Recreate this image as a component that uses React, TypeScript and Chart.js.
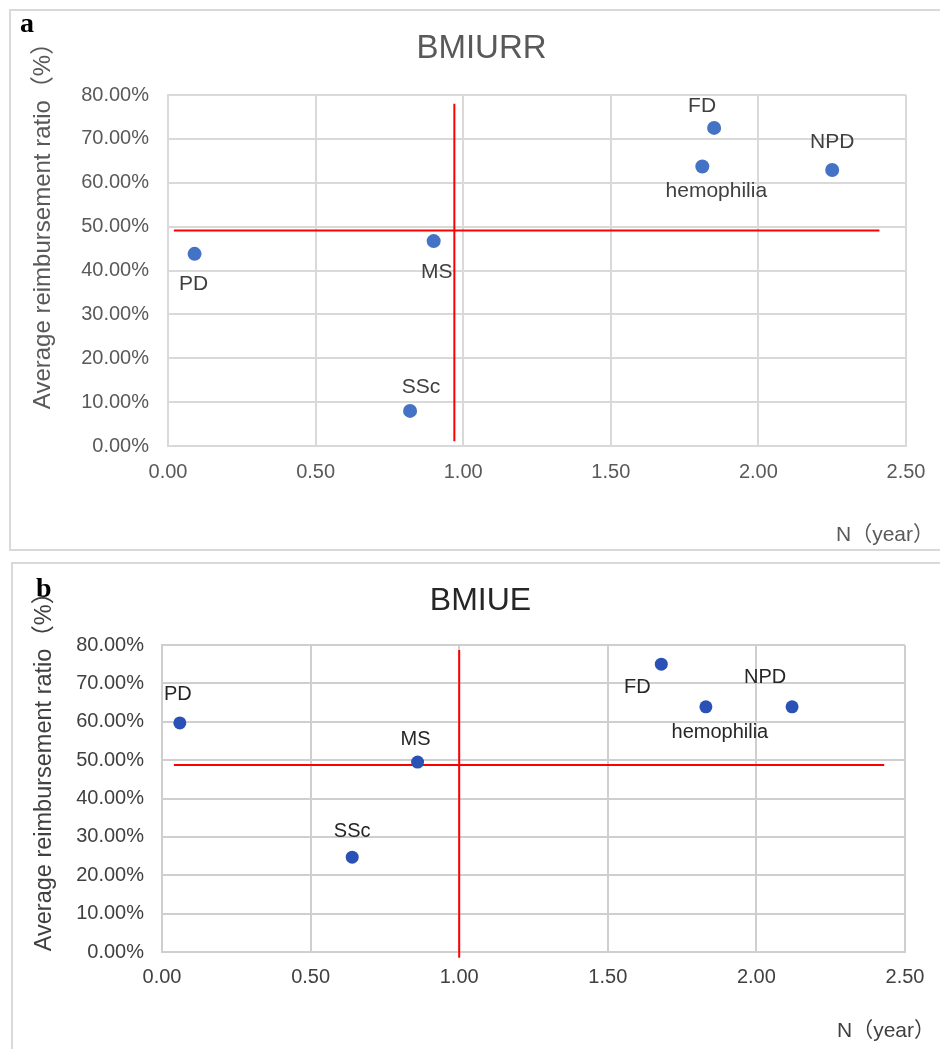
import React, { useEffect, useRef } from 'react';
import { Chart, registerables } from 'chart.js';

Chart.register(...registerables);

// ---------- data ----------
const categories = ['PD', 'MS', 'SSc', 'FD', 'hemophilia', 'NPD'];

const urrYears = [0.09, 0.9, 0.82, 1.85, 1.81, 2.25];
const urrRatio = [43.8, 46.7, 8.0, 72.5, 63.7, 62.9];

const ueYears = [0.06, 0.86, 0.64, 1.68, 1.83, 2.12];
const ueRatio = [59.7, 49.5, 24.7, 75.0, 63.9, 63.9];

const urrHLineX = [0.02, 2.41];
const urrHLineY = 49.1;
const urrVLineX = 0.97;
const urrVLineY = [1.1, 78.0];

const ueHLineX = [0.04, 2.43];
const ueHLineY = 48.7;
const ueVLineX = 1.0;
const ueVLineY = [-1.5, 78.7];

const xTickValues = [0, 0.5, 1, 1.5, 2, 2.5];
const yTickValues = [0, 10, 20, 30, 40, 50, 60, 70, 80];

const yAxisTitle = 'Average reimbursement ratio（%）';
const xAxisTitle = 'N（year）';

const FONT = "'Liberation Sans', Arial, 'Noto Sans CJK SC', sans-serif";

type PanelCfg = {
  title: string;
  letter: string;
  years: number[];
  ratio: number[];
  hX: number[];
  hY: number;
  vX: number;
  vY: number[];
  canvasTop: number;
  height: number;
  area: { left: number; top: number; right: number; bottom: number };
  yPad: number;
  xPad: number;
  pointColor: string;
  pointRadius: number;
  labelColor: string;
  labelSize: number;
  tickColor: string;
  tickSize: number;
  gridColor: string;
  titleSize: number;
  titleColor: string;
  titlePos: [number, number];
  letterPos: [number, number];
  yTitlePos: [number, number];
  yTitleSize: number;
  xTitlePos: [number, number];
  xTitleSize: number;
  labelOffsets: [number, number][];
};

const panelA: PanelCfg = {
  title: 'BMIURR',
  letter: 'a',
  years: urrYears,
  ratio: urrRatio,
  hX: urrHLineX,
  hY: urrHLineY,
  vX: urrVLineX,
  vY: urrVLineY,
  canvasTop: 0,
  height: 556,
  area: { left: 168, top: 95, right: 906, bottom: 446 },
  yPad: 19,
  xPad: 14,
  pointColor: '#4472C4',
  pointRadius: 7,
  labelColor: '#404040',
  labelSize: 21,
  tickColor: '#595959',
  tickSize: 20,
  gridColor: '#d9d9d9',
  titleSize: 33,
  titleColor: '#595959',
  titlePos: [481.5, 58],
  letterPos: [20, 32],
  yTitlePos: [43, 220],
  yTitleSize: 24,
  xTitlePos: [836, 541],
  xTitleSize: 21,
  labelOffsets: [
    [-1, 30],
    [3, 31],
    [11, -24],
    [-12, -22],
    [14, 25],
    [0, -28],
  ],
};

const panelB: PanelCfg = {
  title: 'BMIUE',
  letter: 'b',
  years: ueYears,
  ratio: ueRatio,
  hX: ueHLineX,
  hY: ueHLineY,
  vX: ueVLineX,
  vY: ueVLineY,
  canvasTop: 556,
  height: 493,
  area: { left: 162, top: 89, right: 905, bottom: 396 },
  yPad: 18,
  xPad: 13,
  pointColor: '#2A52B6',
  pointRadius: 6.5,
  labelColor: '#262626',
  labelSize: 20,
  tickColor: '#404040',
  tickSize: 20,
  gridColor: '#cfcfcf',
  titleSize: 32,
  titleColor: '#262626',
  titlePos: [480.5, 610],
  letterPos: [36, 597],
  yTitlePos: [45, 766],
  yTitleSize: 23.5,
  xTitlePos: [837, 1037],
  xTitleSize: 21,
  labelOffsets: [
    [-2, -28],
    [-2, -23],
    [0, -26],
    [-24, 23],
    [14, 26],
    [-27, -29],
  ],
};

function makeChart(canvas: HTMLCanvasElement, p: PanelCfg) {
  const W = 940;
  const xAxisH = 60;
  const textPlugin = {
    id: 'panelText',
    afterDatasetsDraw(chart: any) {
      const ctx = chart.ctx as CanvasRenderingContext2D;
      const meta = chart.getDatasetMeta(0);
      ctx.save();
      ctx.fillStyle = p.labelColor;
      ctx.font = `${p.labelSize}px ${FONT}`;
      ctx.textAlign = 'center';
      ctx.textBaseline = 'middle';
      meta.data.forEach((el: any, i: number) => {
        const [dx, dy] = p.labelOffsets[i];
        ctx.fillText(categories[i], el.x + dx, el.y + dy);
      });
      ctx.restore();
    },
    afterDraw(chart: any) {
      const ctx = chart.ctx as CanvasRenderingContext2D;
      const off = p.canvasTop;
      ctx.save();
      // title
      ctx.fillStyle = p.titleColor;
      ctx.font = `${p.titleSize}px ${FONT}`;
      ctx.textAlign = 'center';
      ctx.textBaseline = 'alphabetic';
      ctx.fillText(p.title, p.titlePos[0], p.titlePos[1] - off);
      // panel letter
      ctx.fillStyle = '#000';
      ctx.font = `bold 28px 'Liberation Serif', 'Times New Roman', serif`;
      ctx.textAlign = 'left';
      ctx.fillText(p.letter, p.letterPos[0], p.letterPos[1] - off);
      // x axis title
      ctx.fillStyle = p.tickColor;
      ctx.font = `${p.xTitleSize}px ${FONT}`;
      ctx.textAlign = 'left';
      ctx.fillText(xAxisTitle, p.xTitlePos[0], p.xTitlePos[1] - off);
      // y axis title
      ctx.translate(p.yTitlePos[0], p.yTitlePos[1] - off);
      ctx.rotate(-Math.PI / 2);
      ctx.font = `${p.yTitleSize}px ${FONT}`;
      ctx.textAlign = 'center';
      ctx.textBaseline = 'middle';
      ctx.fillText(yAxisTitle, 0, 0);
      ctx.restore();
    },
  };

  return new Chart(canvas, {
    type: 'scatter',
    data: {
      datasets: [
        {
          label: 'points',
          data: p.years.map((x, i) => ({ x, y: p.ratio[i] })),
          backgroundColor: p.pointColor,
          borderColor: p.pointColor,
          pointRadius: p.pointRadius,
          pointHoverRadius: p.pointRadius,
          borderWidth: 0,
          order: 0,
        },
        {
          label: 'h',
          data: p.hX.map((x) => ({ x, y: p.hY })),
          showLine: true,
          borderColor: '#FF0000',
          borderWidth: 2,
          pointRadius: 0,
          order: 1,
          clip: false as any,
        },
        {
          label: 'v',
          data: p.vY.map((y) => ({ x: p.vX, y })),
          showLine: true,
          borderColor: '#FF0000',
          borderWidth: 2,
          pointRadius: 0,
          order: 1,
          clip: false as any,
        },
      ],
    },
    options: {
      responsive: false,
      animation: false,
      devicePixelRatio: 1,
      layout: {
        padding: {
          left: 0,
          top: p.area.top,
          right: W - p.area.right,
          bottom: p.height - p.area.bottom - xAxisH,
        },
      },
      plugins: {
        legend: { display: false },
        title: { display: false },
        tooltip: { enabled: false },
      },
      scales: {
        x: {
          type: 'linear',
          min: 0,
          max: 2.5,
          afterBuildTicks: (s: any) => {
            s.ticks = xTickValues.map((v) => ({ value: v }));
          },
          afterFit: (s: any) => {
            s.height = xAxisH;
            s.paddingLeft = 0;
            s.paddingRight = 0;
          },
          grid: { color: p.gridColor, lineWidth: 2, drawTicks: false },
          border: { color: p.gridColor, width: 2 },
          ticks: {
            padding: p.xPad,
            color: p.tickColor,
            font: { family: FONT, size: p.tickSize },
            callback: (v: any) => Number(v).toFixed(2),
            maxRotation: 0,
            autoSkip: false,
          },
        },
        y: {
          type: 'linear',
          min: 0,
          max: 80,
          afterBuildTicks: (s: any) => {
            s.ticks = yTickValues.map((v) => ({ value: v }));
          },
          afterFit: (s: any) => {
            s.width = p.area.left;
            s.paddingTop = 0;
            s.paddingBottom = 0;
          },
          grid: { color: p.gridColor, lineWidth: 2, drawTicks: false },
          border: { color: p.gridColor, width: 2 },
          ticks: {
            padding: p.yPad,
            color: p.tickColor,
            font: { family: FONT, size: p.tickSize },
            callback: (v: any) => Number(v).toFixed(2) + '%',
            autoSkip: false,
          },
        },
      },
    },
    plugins: [textPlugin],
  });
}

function Panel({ cfg }: { cfg: PanelCfg }) {
  const ref = useRef<HTMLCanvasElement | null>(null);
  useEffect(() => {
    if (!ref.current) return;
    const chart = makeChart(ref.current, cfg);
    return () => chart.destroy();
  }, [cfg]);
  return (
    <canvas
      ref={ref}
      width={940}
      height={cfg.height}
      style={{
        position: 'absolute',
        left: 0,
        top: cfg.canvasTop,
        width: 940,
        height: cfg.height,
        display: 'block',
      }}
    />
  );
}

export default function App() {
  return (
    <div
      style={{
        position: 'absolute',
        left: 0,
        top: 0,
        width: 940,
        height: 1049,
        overflow: 'hidden',
        background: '#fff',
      }}
    >
      <div
        style={{
          position: 'absolute',
          left: 9,
          top: 9,
          width: 1000,
          height: 542,
          border: '2px solid #d9d9d9',
          boxSizing: 'border-box',
        }}
      />
      <div
        style={{
          position: 'absolute',
          left: 11,
          top: 562,
          width: 1000,
          height: 600,
          border: '2px solid #d9d9d9',
          boxSizing: 'border-box',
        }}
      />
      <Panel cfg={panelA} />
      <Panel cfg={panelB} />
    </div>
  );
}
